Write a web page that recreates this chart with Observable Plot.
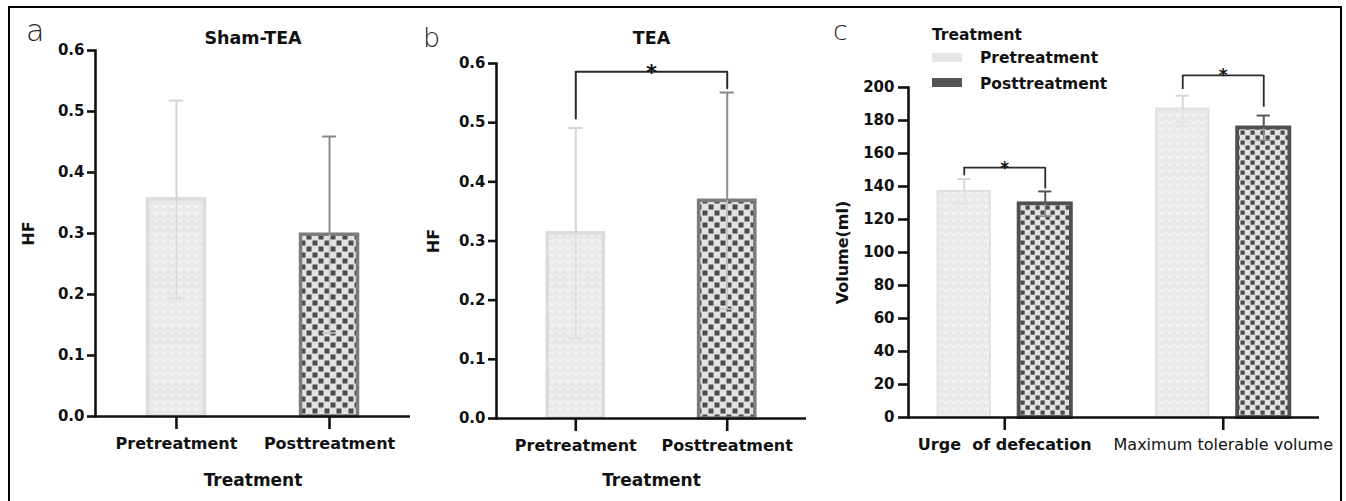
<!DOCTYPE html>
<html><head><meta charset="utf-8">
<script src="https://cdn.jsdelivr.net/npm/d3@7"></script>
<script src="https://cdn.jsdelivr.net/npm/@observablehq/plot@0.6"></script>
<style>
html,body{margin:0;padding:0;background:#fff;overflow:hidden;}
#root{position:relative;width:1346px;height:501px;font-family:"DejaVu Sans",sans-serif;color:#111;overflow:hidden;}
#border{position:absolute;left:8px;top:6px;width:1334px;height:520px;border:2px solid #000;box-sizing:border-box;}
.panel{position:absolute;top:0;}
.letter{position:absolute;font-size:27px;font-weight:200;line-height:27px;color:#222;}
.leg{position:absolute;font-weight:bold;font-size:15.5px;line-height:16px;white-space:nowrap;color:#111;}
.sw{position:absolute;width:30px;height:9px;}
</style></head><body>
<svg width="0" height="0" style="position:absolute">
<defs>
<pattern id="wave" patternUnits="userSpaceOnUse" width="8" height="7">
 <rect width="8" height="7" fill="#e8e8e8"/>
 <path d="M1,1.5 L4,4.5 L7,1.5" fill="none" stroke="#f8f8f8" stroke-width="1.3"/>
</pattern>
<pattern id="checker" patternUnits="userSpaceOnUse" width="12" height="12">
 <rect width="12" height="12" fill="#e2e2e2"/>
 <rect x="0.5" y="0.5" width="5" height="5" fill="#4a4a4a"/>
 <rect x="6.5" y="6.5" width="5" height="5" fill="#4a4a4a"/>
</pattern>
<pattern id="checkerSmall" patternUnits="userSpaceOnUse" width="10" height="10">
 <rect width="10" height="10" fill="#e2e2e2"/>
 <rect x="0.5" y="0.5" width="4.2" height="4.2" fill="#4a4a4a"/>
 <rect x="5.5" y="5.5" width="4.2" height="4.2" fill="#4a4a4a"/>
</pattern>
</defs></svg>
<div id="root">
 <div id="border"></div>
 <div class="panel" id="pa" style="left:0px"></div>
 <div class="panel" id="pb" style="left:420px"></div>
 <div class="panel" id="pc" style="left:830px"></div>
 <div class="letter" style="left:26px;top:16px;font-size:30px;line-height:30px">a</div>
 <div class="letter" style="left:423px;top:24px">b</div>
 <div class="letter" style="left:833px;top:17px">c</div>
 <div class="leg" style="left:932px;top:27px">Treatment</div>
 <div class="sw" style="left:932px;top:53px;background:#e6e6e6"></div>
 <div class="sw" style="left:932px;top:78px;background:#555"></div>
 <div class="leg" style="left:980px;top:50px">Pretreatment</div>
 <div class="leg" style="left:980px;top:76px">Posttreatment</div>
</div>
<script>
// ---------- data ----------
const treatments = ["Pretreatment", "Posttreatment"];
const shamMean = [0.356, 0.298];
const shamSD = [0.162, 0.161];
const teaMean = [0.313, 0.368];
const teaSD = [0.178, 0.183];
const hfTicks = [0, 0.1, 0.2, 0.3, 0.4, 0.5, 0.6];
const teaBracketY = [0.507, 0.586, 0.586, 0.558];   // left leg end, top, top, right leg end

const measures = ["Urge  of defecation", "Maximum tolerable volume"];
const volPreMean = [137, 187];
const volPreSD = [7.5, 8];
const volPostMean = [129.5, 175.5];
const volPostSD = [7.5, 7.5];
const volTicks = [0, 20, 40, 60, 80, 100, 120, 140, 160, 180, 200];
const volBracketTop = [151.5, 207.3];
const volBracketPreEnd = [146.5, 198.8];
const volBracketPostEnd = [138.5, 188];

// ---------- styles ----------
const hfStyle = {
  Pretreatment: {fill: "url(#wave)", stroke: "#dcdcdc", err: "#d4d4d4", low: "#dadada"},
  Posttreatment: {fill: "url(#checker)", stroke: "#7c7c7c", err: "#8a8a8a", low: "#c2c2c2"}
};
const FONT = "DejaVu Sans";
const AX = 2.6;

function hfPanel(cfg) {
  const rows = treatments.map((g, i) => ({group: g, mean: cfg.means[i], hi: cfg.means[i] + cfg.sds[i], lo: cfg.means[i] - cfg.sds[i]}));
  const marks = [];
  for (const r of rows) {
    const s = hfStyle[r.group], d = [r];
    marks.push(
      Plot.barY(d, {x: "group", y: "mean", fill: s.fill, stroke: s.stroke, strokeWidth: 3.5, insetLeft: 1.5, insetRight: 1.5}),
      Plot.ruleX(d, {x: "group", y1: "lo", y2: "mean", stroke: s.low, strokeWidth: 1.5}),
      Plot.tickY(d, {x: "group", y: "lo", stroke: s.low, strokeWidth: 1.5, insetLeft: cfg.capInset, insetRight: cfg.capInset}),
      Plot.ruleX(d, {x: "group", y1: "mean", y2: "hi", stroke: s.err, strokeWidth: 2}),
      Plot.tickY(d, {x: "group", y: "hi", stroke: s.err, strokeWidth: 2, insetLeft: cfg.capInset, insetRight: cfg.capInset})
    );
  }
  if (cfg.bracket) {
    const pts = [
      {group: treatments[0], y: cfg.bracket[0]}, {group: treatments[0], y: cfg.bracket[1]},
      {group: treatments[1], y: cfg.bracket[2]}, {group: treatments[1], y: cfg.bracket[3]}
    ];
    marks.push(
      Plot.line(pts, {x: "group", y: "y", stroke: "#2a2a2a", strokeWidth: 2}),
      Plot.text(["*"], {y: () => cfg.bracket[1], text: d => d, fontSize: 21, fontWeight: "bold", lineAnchor: "bottom", dy: 8})
    );
  }
  marks.push(
    Plot.ruleY([0], {strokeWidth: AX, stroke: "#111"}),
    Plot.frame({anchor: "left", strokeWidth: AX, stroke: "#111"}),
    Plot.axisY({ticks: hfTicks, tickFormat: d3.format(".1f"), tickSize: 8, tickPadding: 3, fontSize: 15, fontWeight: "bold", strokeWidth: AX, label: null}),
    Plot.axisX({tickSize: 13, tickPadding: 8, fontSize: 16, fontWeight: "bold", strokeWidth: AX, label: null}),
    Plot.text([cfg.title], {text: d => d, frameAnchor: "top", dy: cfg.titleDy, fontSize: 17.5, fontWeight: "bold", lineAnchor: "middle"}),
    Plot.text(["Treatment"], {text: d => d, frameAnchor: "bottom", dy: cfg.xLabelDy, fontSize: 17, fontWeight: "bold", lineAnchor: "middle"}),
    Plot.text(["HF"], {text: d => d, frameAnchor: "left", textAnchor: "middle", rotate: -90, dx: cfg.yLabelDx, fontSize: 16, fontWeight: "bold", lineAnchor: "middle"})
  );
  return Plot.plot({
    width: cfg.width, height: 501,
    marginLeft: cfg.ml, marginRight: cfg.mr, marginTop: cfg.mt, marginBottom: cfg.mb,
    style: {fontFamily: FONT, fontSize: "15px", color: "#111", background: "transparent", overflow: "visible"},
    x: {domain: treatments, type: "band", paddingInner: cfg.pi, paddingOuter: cfg.po, round: false, label: null},
    y: {domain: [0, 0.6], label: null},
    marks
  });
}

document.getElementById("pa").appendChild(hfPanel({
  title: "Sham-TEA", means: shamMean, sds: shamSD, width: 420, ml: 95, mr: 10, mt: 50, mb: 85,
  pi: 0.608, po: 0.333, capInset: 23, titleDy: -12, xLabelDy: 64, yLabelDx: -67
}));
document.getElementById("pb").appendChild(hfPanel({
  title: "TEA", means: teaMean, sds: teaSD, width: 410, ml: 76, mr: 24, mt: 63, mb: 83,
  pi: 0.609, po: 0.328, capInset: 22.5, titleDy: -25, xLabelDy: 62, yLabelDx: -63, bracket: teaBracketY
}));

// ---------- panel c ----------
const GBW = 135, BW = 52, CAP = 13;
const volStyle = {
  Pretreatment: {fill: "url(#wave)", stroke: "#e0e0e0", sw: 2, err: "#d6d6d6", low: "#e2e2e2",
                 il: 1, ir: GBW - BW - 1, dx: -(GBW / 2 - 1 - BW / 2)},
  Posttreatment: {fill: "url(#checkerSmall)", stroke: "#505050", sw: 3.8, err: "#555", low: "#8a8a8a",
                 il: GBW - BW - 1, ir: 1, dx: (GBW / 2 - 1 - BW / 2)}
};
const volRows = [];
measures.forEach((m, i) => {
  volRows.push({group: m, series: "Pretreatment", mean: volPreMean[i], hi: volPreMean[i] + volPreSD[i], lo: volPreMean[i] - volPreSD[i]});
  volRows.push({group: m, series: "Posttreatment", mean: volPostMean[i], hi: volPostMean[i] + volPostSD[i], lo: volPostMean[i] - volPostSD[i]});
});
const brackets = measures.map((m, i) => ({group: m, top: volBracketTop[i], pre: volBracketPreEnd[i], post: volBracketPostEnd[i]}));
const cMarks = [];
for (const ser of treatments) {
  const s = volStyle[ser], d = volRows.filter(r => r.series === ser);
  const capL = GBW / 2 + s.dx - CAP / 2, capR = GBW - capL - CAP;
  cMarks.push(
    Plot.barY(d, {x: "group", y: "mean", fill: s.fill, stroke: s.stroke, strokeWidth: s.sw, insetLeft: s.il, insetRight: s.ir}),
    Plot.ruleX(d, {x: "group", y1: "lo", y2: "mean", dx: s.dx, stroke: s.low, strokeWidth: 1.5}),
    Plot.tickY(d, {x: "group", y: "lo", stroke: s.low, strokeWidth: 1.5, insetLeft: capL, insetRight: capR}),
    Plot.ruleX(d, {x: "group", y1: "mean", y2: "hi", dx: s.dx, stroke: s.err, strokeWidth: 2}),
    Plot.tickY(d, {x: "group", y: "hi", stroke: s.err, strokeWidth: 2, insetLeft: capL, insetRight: capR})
  );
}
const preDx = volStyle.Pretreatment.dx, postDx = volStyle.Posttreatment.dx;
cMarks.push(
  Plot.ruleX(brackets, {x: "group", y1: "pre", y2: "top", dx: preDx, stroke: "#2a2a2a", strokeWidth: 1.8}),
  Plot.ruleX(brackets, {x: "group", y1: "post", y2: "top", dx: postDx, stroke: "#2a2a2a", strokeWidth: 1.8}),
  Plot.tickY(brackets, {x: "group", y: "top", stroke: "#2a2a2a", strokeWidth: 1.8,
    insetLeft: GBW / 2 + preDx, insetRight: GBW / 2 - postDx}),
  Plot.text(brackets, {x: "group", y: "top", text: () => "*", fontSize: 17, fontWeight: "bold", lineAnchor: "bottom", dy: 6}),
  Plot.ruleY([0], {strokeWidth: AX, stroke: "#111"}),
  Plot.frame({anchor: "left", strokeWidth: AX, stroke: "#111"}),
  Plot.axisY({ticks: volTicks, tickFormat: d3.format("d"), tickSize: 10, tickPadding: 4, fontSize: 15, fontWeight: "bold", strokeWidth: AX, label: null}),
  Plot.axisX({ticks: [measures[0]], tickSize: 13, tickPadding: 8, fontSize: 16, fontWeight: "bold", strokeWidth: AX, label: null}),
  Plot.axisX({ticks: [measures[1]], tickSize: 13, tickPadding: 8, fontSize: 16, fontWeight: "normal", strokeWidth: AX, label: null}),
  Plot.text(["Volume(ml)"], {text: d => d, frameAnchor: "left", textAnchor: "middle", rotate: -90, dx: -66, fontSize: 16, fontWeight: "bold", lineAnchor: "middle"})
);
document.getElementById("pc").appendChild(Plot.plot({
  width: 516, height: 501, marginLeft: 78, marginRight: 27, marginTop: 87, marginBottom: 84,
  style: {fontFamily: FONT, fontSize: "15px", color: "#111", background: "transparent", overflow: "visible", whiteSpace: "pre"},
  x: {domain: measures, type: "band", paddingInner: 0.381, paddingOuter: 0.131, round: false, label: null},
  y: {domain: [0, 200], label: null},
  marks: cMarks
}));
</script>
</body></html>
